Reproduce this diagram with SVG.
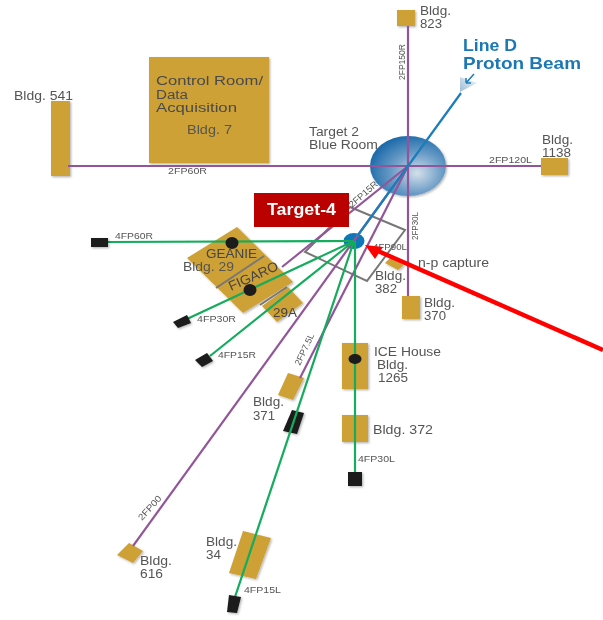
<svg xmlns="http://www.w3.org/2000/svg" width="603" height="620" viewBox="0 0 603 620">
<style>
text{font-family:"Liberation Sans",Arial,sans-serif;fill:#555}
.l{font-size:12px}
.c{font-size:12.5px;fill:#4a4a4a}
.s{font-size:9px}
.bl{font-size:16.5px;font-weight:bold;fill:#1c78b4}
.b{fill:#cda136;filter:url(#sh)}
.k{fill:#1a1a1a;filter:url(#sh)}
.p{stroke:#93559a;stroke-width:2.2;fill:none}
.g{stroke:#12ac5c;stroke-width:2.2;fill:none}
.bm{stroke:#1a7db8;stroke-width:2.2;fill:none}
.d{fill:#1a1a1a}
.h{stroke:#777;stroke-width:2;fill:none}
</style>
<defs>
<filter id="sh" x="-20%" y="-20%" width="150%" height="150%"><feDropShadow dx="1.2" dy="1.2" stdDeviation="1" flood-color="#000" flood-opacity=".3"/></filter>
<filter id="soft" x="0" y="0" width="603" height="620" filterUnits="userSpaceOnUse"><feGaussianBlur stdDeviation="0.5"/></filter>
<radialGradient id="ball" cx="62%" cy="62%" r="64%"><stop offset="0" stop-color="#d4e0ea"/><stop offset=".5" stop-color="#6f9fc8"/><stop offset="1" stop-color="#1f6cab"/></radialGradient>
<linearGradient id="fan" x1="0" y1="1" x2="1" y2="0"><stop offset="0" stop-color="#9dbcd6"/><stop offset="1" stop-color="#f2f6f9"/></linearGradient>
</defs>
<rect width="603" height="620" fill="#fff"/>
<g filter="url(#soft)">
<g id="target-2"><ellipse cx="408" cy="166" rx="38" ry="30" fill="url(#ball)" filter="url(#sh)"/></g>
<g id="bldg-7"><rect class="b" x="149" y="57" width="120" height="106"/><text class="c" x="156" y="85" textLength="107" lengthAdjust="spacingAndGlyphs">Control Room/</text><text class="c" x="156" y="98.500" textLength="32" lengthAdjust="spacingAndGlyphs">Data</text><text class="c" x="156" y="112" textLength="81" lengthAdjust="spacingAndGlyphs">Acquisition</text><text class="l" x="187" y="134" textLength="45" lengthAdjust="spacingAndGlyphs">Bldg. 7</text></g>
<g id="bldg-541"><rect class="b" x="51" y="101" width="19" height="75"/><text class="l" x="14" y="100" textLength="59" lengthAdjust="spacingAndGlyphs">Bldg. 541</text></g>
<g id="bldg-823"><rect class="b" x="397" y="10" width="18" height="16"/><text class="l" x="420" y="15" textLength="31" lengthAdjust="spacingAndGlyphs">Bldg.</text><text class="l" x="420" y="28" textLength="22" lengthAdjust="spacingAndGlyphs">823</text></g>
<g id="bldg-1138"><rect class="b" x="541" y="158" width="27" height="17"/><text class="l" x="542" y="144" textLength="31" lengthAdjust="spacingAndGlyphs">Bldg.</text><text class="l" x="542" y="157" textLength="29" lengthAdjust="spacingAndGlyphs">1138</text></g>
<g id="bldg-370"><rect class="b" x="402" y="296" width="18" height="23"/><text class="l" x="424" y="307" textLength="31" lengthAdjust="spacingAndGlyphs">Bldg.</text><text class="l" x="424" y="320" textLength="22" lengthAdjust="spacingAndGlyphs">370</text></g>
<g id="bldg-382"><polygon class="b" points="390,258 404,265 398,270 385,263"/><text class="l" x="375" y="280" textLength="31" lengthAdjust="spacingAndGlyphs">Bldg.</text><text class="l" x="375" y="293" textLength="22" lengthAdjust="spacingAndGlyphs">382</text></g>
<g id="bldg-29"><polygon class="b" points="237,227 293,282 243,313 187,258"/><polygon class="b" points="288,287 303,303 277,322 262,306"/>
<line class="h" x1="216" y1="288" x2="264" y2="256"/><line class="h" x1="260" y1="305" x2="287" y2="287"/>
<text style="font-size:13px;fill:#444" x="206" y="258" textLength="51" lengthAdjust="spacingAndGlyphs">GEANIE</text><text style="font-size:12.500px" x="183" y="271" textLength="51" lengthAdjust="spacingAndGlyphs">Bldg. 29</text><text style="font-size:13.500px;fill:#444" transform="translate(231 291) rotate(-24)" textLength="53" lengthAdjust="spacingAndGlyphs">FIGARO</text><text style="font-size:13.500px;fill:#444" x="273" y="317" textLength="24" lengthAdjust="spacingAndGlyphs">29A</text></g>
<g id="bldg-371"><polygon class="b" points="288,373 304,378 293,400 278,395"/><text class="l" x="253" y="406" textLength="31" lengthAdjust="spacingAndGlyphs">Bldg.</text><text class="l" x="253" y="420" textLength="22" lengthAdjust="spacingAndGlyphs">371</text></g>
<g id="shield-371"><polygon class="k" points="292,410 304,413 297,434 283,431"/></g>
<g id="ice-house"><rect class="b" x="342" y="343" width="26" height="46"/><text class="l" x="374" y="356" textLength="67" lengthAdjust="spacingAndGlyphs">ICE House</text><text class="l" x="377" y="369" textLength="31" lengthAdjust="spacingAndGlyphs">Bldg.</text><text class="l" x="378" y="382" textLength="30" lengthAdjust="spacingAndGlyphs">1265</text></g>
<g id="bldg-372"><rect class="b" x="342" y="415" width="26" height="27"/><text class="l" x="373" y="434" textLength="60" lengthAdjust="spacingAndGlyphs">Bldg. 372</text></g>
<g id="bldg-34"><polygon class="b" points="243,531 271,538 256,579 229,573"/><text class="l" x="206" y="546" textLength="31" lengthAdjust="spacingAndGlyphs">Bldg.</text><text class="l" x="206" y="559" textLength="15" lengthAdjust="spacingAndGlyphs">34</text></g>
<g id="bldg-616"><polygon class="b" points="129,543 143,551 133,563 117,555"/><text class="l" x="140" y="565" textLength="32" lengthAdjust="spacingAndGlyphs">Bldg.</text><text class="l" x="140" y="578" textLength="23" lengthAdjust="spacingAndGlyphs">616</text></g>
<g id="detector-grid"><polygon points="350,207 405,230 367,281 305,252" fill="none" stroke="#777" stroke-width="2"/></g>
<g id="target-4-dot"><ellipse cx="354" cy="241" rx="10.500" ry="8" fill="#0f78b8"/></g>
<g id="connectors">
<line class="p" x1="68" y1="166" x2="541" y2="166"/>
<line class="p" x1="408" y1="26" x2="408" y2="296"/>
<line class="p" x1="408" y1="166" x2="282" y2="267"/>
<line class="p" x1="408" y1="166" x2="133" y2="546"/>
<line class="p" x1="408" y1="166" x2="300" y2="378"/>
<line class="bm" x1="408" y1="166" x2="461" y2="93"/>
<line class="bm" x1="408" y1="166" x2="358" y2="235"/>
<line class="g" x1="108" y1="242" x2="354" y2="241"/>
<line class="g" x1="187" y1="319" x2="354" y2="241"/>
<line class="g" x1="210" y1="356" x2="354" y2="241"/>
<line class="g" x1="355" y1="241" x2="355" y2="473"/>
<line class="g" x1="235" y1="597" x2="354" y2="241"/>
</g>
<g id="beam-head"><polygon points="460,77 477,83 460,92" fill="url(#fan)"/><path d="M474,74 L466,83 M466,83 L466,78 M466,83 L471,83" stroke="#1a7db8" stroke-width="1.500" fill="none"/><text class="bl" x="463" y="51" textLength="54" lengthAdjust="spacingAndGlyphs">Line D</text><text class="bl" x="463" y="69" textLength="118" lengthAdjust="spacingAndGlyphs">Proton Beam</text></g>
<g id="dots"><ellipse class="d" cx="232" cy="243" rx="6.500" ry="6"/><ellipse class="d" cx="250" cy="290" rx="6.500" ry="6"/><ellipse class="d" cx="355" cy="359" rx="6.500" ry="5"/></g>
<g id="detectors"><rect class="k" x="91" y="238" width="17" height="9"/><polygon class="k" points="173,322 187,315 191,323 178,328"/><polygon class="k" points="195,360 207,353 213,361 202,367"/><rect class="k" x="348" y="472" width="14" height="14"/><polygon class="k" points="229,595 241,597 237,613 227,612"/></g>
<g id="labels">
<text class="s" x="168" y="174" textLength="39" lengthAdjust="spacingAndGlyphs">2FP60R</text><text class="s" x="489" y="163" textLength="43" lengthAdjust="spacingAndGlyphs">2FP120L</text>
<text class="s" transform="translate(405 80) rotate(-90)" textLength="36" lengthAdjust="spacingAndGlyphs">2FP150R</text>
<text class="s" transform="translate(418 240) rotate(-90)" textLength="28" lengthAdjust="spacingAndGlyphs">2FP30L</text>
<text class="s" transform="translate(352 208) rotate(-41)" textLength="35" lengthAdjust="spacingAndGlyphs">2FP15R</text>
<text class="s" transform="translate(300 366) rotate(-65)" textLength="34" lengthAdjust="spacingAndGlyphs">2FP7.5L</text>
<text class="s" transform="translate(142 521) rotate(-48)" textLength="30" lengthAdjust="spacingAndGlyphs">2FP00</text>
<text class="s" x="115" y="239" textLength="38" lengthAdjust="spacingAndGlyphs">4FP60R</text><text class="s" x="197" y="322" textLength="39" lengthAdjust="spacingAndGlyphs">4FP30R</text><text class="s" x="218" y="358" textLength="38" lengthAdjust="spacingAndGlyphs">4FP15R</text><text class="s" x="358" y="462" textLength="37" lengthAdjust="spacingAndGlyphs">4FP30L</text><text class="s" x="244" y="593" textLength="37" lengthAdjust="spacingAndGlyphs">4FP15L</text><text class="s" x="373" y="250" textLength="34" lengthAdjust="spacingAndGlyphs">4FP90L</text>
<text class="l" x="309" y="136" textLength="50" lengthAdjust="spacingAndGlyphs">Target 2</text><text class="l" x="309" y="149" textLength="69" lengthAdjust="spacingAndGlyphs">Blue Room</text><text class="l" x="418" y="267" textLength="71" lengthAdjust="spacingAndGlyphs">n-p capture</text>
</g>
<g id="target-4"><rect x="254" y="193" width="95" height="34" fill="#bb0000"/><text x="267" y="215" textLength="69" lengthAdjust="spacingAndGlyphs" style="font-size:16px;font-weight:bold;fill:#fff">Target-4</text></g>
<g id="pointer"><line x1="603" y1="350" x2="378" y2="251" stroke="#f00" stroke-width="4.500"/><polygon points="365,245 383,247 375,259" fill="#f00"/></g>
</g>
</svg>
